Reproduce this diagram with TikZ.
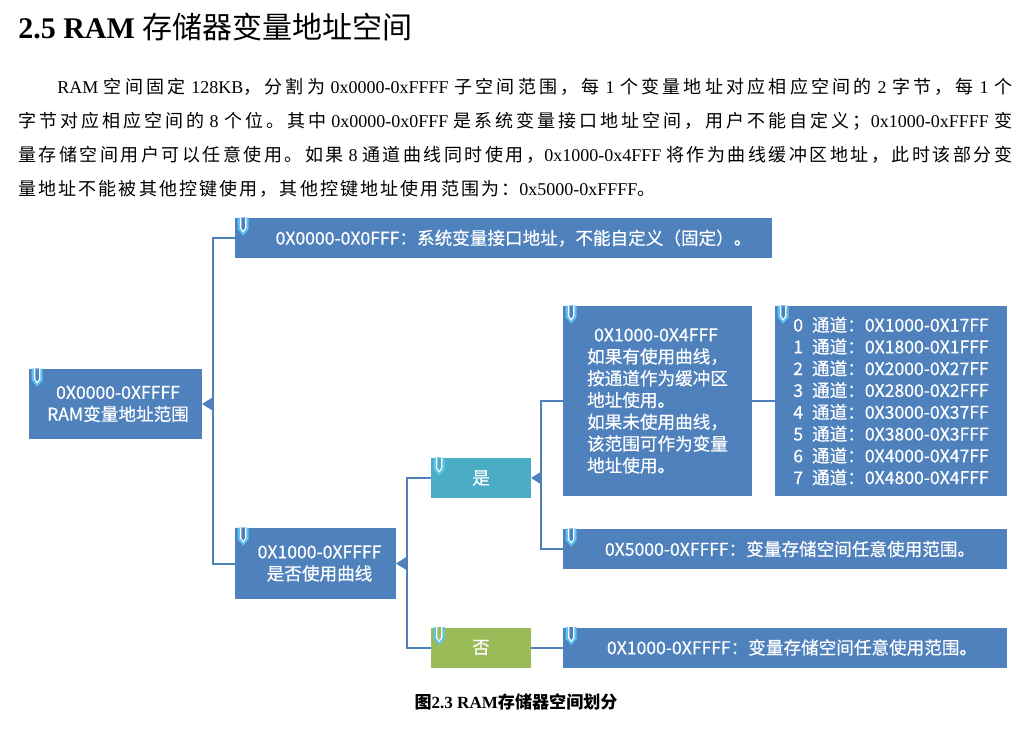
\documentclass[tikz,border=0pt]{standalone}
\usepackage{fontspec}
\setmainfont{Liberation Serif}
\newfontfamily\cjk{Noto Sans CJK SC}
\newfontfamily\cjkbox[FakeBold=0.5]{Noto Sans CJK SC}
\usetikzlibrary{arrows.meta}
\definecolor{boxblue}{HTML}{4F81BD}
\definecolor{yesc}{HTML}{4BACC6}
\definecolor{noc}{HTML}{9BBB59}
\definecolor{pinc}{HTML}{5BC4F1}
\newlength\pxu \pxu=0.75pt
\newcommand\cjgap{\hskip 1.6pt plus 1fil\relax}
\newcommand\gsp{\hskip 3.4pt plus 1fil\relax}
\def\cjloop#1#2{#1\ifx\relax#2\else\cjgap\expandafter\cjloop\expandafter#2\fi}
\newcommand\cj[1]{{\cjk\cjloop#1\relax}}
\begin{document}
\begin{tikzpicture}[x=0.75pt,y=-0.75pt,
  box/.style={fill=boxblue, text=white, inner sep=0pt, align=center,
    font=\cjkbox\fontsize{13.2pt}{16.35pt}\selectfont},
  sz/.style 2 args={minimum width=#1*0.75pt, minimum height=#2*0.75pt},
  conn/.style={draw=boxblue, line width=1.5pt},
  tip/.style={-{Triangle[length=7.5pt,width=9pt]}},
  para/.style={inner sep=0pt, anchor=base west, font=\fontsize{13.5pt}{16pt}\selectfont},
  pinouter/.style={fill=pinc},
  pininner/.style={draw=white, line width=0.8pt}]
\useasboundingbox (0,0) rectangle (1027,728);

% heading
\node[inner sep=0pt, anchor=base west] (title) at (18,38)
  {\fontsize{22.5pt}{26pt}\selectfont\bfseries 2.5 RAM {\cjk\mdseries 存储器变量地址空间}};

% paragraph
\node[para] (p1) at (57,93) {\hbox to 716.25pt{RAM\gsp\cj{空间固定}\gsp 128KB\cj{，分割为}\gsp 0x0000-0xFFFF\gsp\cj{子空间范围，每}\gsp 1\gsp\cj{个变量地址对应相应空间的}\gsp 2\gsp\cj{字节，每}\gsp 1\gsp\cj{个}}};
\node[para] (p2) at (18,127) {\hbox to 745.5pt{\cj{字节对应相应空间的}\gsp 8\gsp\cj{个位。其中}\gsp 0x0000-0x0FFF\gsp\cj{是系统变量接口地址空间，用户不能自定义；}0x1000-0xFFFF\gsp\cj{变}}};
\node[para] (p3) at (18,161) {\hbox to 745.5pt{\cj{量存储空间用户可以任意使用。如果}\gsp 8\gsp\cj{通道曲线同时使用，}0x1000-0x4FFF\gsp\cj{将作为曲线缓冲区地址，此时该部分变}}};
\node[para] (p4) at (18,195) {\hbox{\cj{量地址不能被其他控键使用，其他控键地址使用范围为：}0x5000-0xFFFF\cj{。}}};

% boxes
\node[box, sz={173}{70}] (main) at (115.5,404) {\hspace*{5\pxu}0X0000-0XFFFF\\\hspace*{5\pxu}RAM变量地址范围};
\node[box, sz={537}{40}] (A) at (503.5,238) {\hspace*{20\pxu}0X0000-0X0FFF：系统变量接口地址，不能自定义（固定）。};
\node[box, sz={161}{71}] (B) at (315.5,563.5) {\hspace*{8\pxu}0X1000-0XFFFF\\\hspace*{8\pxu}是否使用曲线};
\node[box, fill=yesc, sz={100}{40}] (yes) at (481,478) {是};
\node[box, fill=noc, sz={100}{40}] (no) at (481,647.5) {否};
\node[box, sz={189}{190}, align=left] (C) at (657.5,401)
  {\hspace*{7\pxu}0X1000-0X4FFF\\如果有使用曲线，\\按通道作为缓冲区\\地址使用。\\如果未使用曲线，\\该范围可作为变量\\地址使用。};
\node[box, sz={232}{190}] (Ch) at (891,401)
  {0\hspace{9\pxu}通道：0X1000-0X17FF\\1\hspace{9\pxu}通道：0X1800-0X1FFF\\2\hspace{9\pxu}通道：0X2000-0X27FF\\3\hspace{9\pxu}通道：0X2800-0X2FFF\\4\hspace{9\pxu}通道：0X3000-0X37FF\\5\hspace{9\pxu}通道：0X3800-0X3FFF\\6\hspace{9\pxu}通道：0X4000-0X47FF\\7\hspace{9\pxu}通道：0X4800-0X4FFF};
\node[box, sz={444}{40}] (E) at (785,549) {\hspace*{10\pxu}0X5000-0XFFFF：变量存储空间任意使用范围。};
\node[box, sz={444}{40}] (D) at (785,647.5) {\hspace*{14\pxu}0X1000-0XFFFF：变量存储空间任意使用范围。};

% pins
\foreach \n/\c in {main/boxblue,A/boxblue,B/boxblue,yes/yesc,no/noc,C/boxblue,Ch/boxblue,E/boxblue,D/boxblue}{
  \begin{scope}[shift={(\n.north west)}]
    \fill[pinouter] (3,0) -- (3,11.5) -- (8.5,18) -- (14,11.5) -- (14,0) -- cycle;
    \filldraw[pininner, fill=\c] (6,0) -- (6,10.5) -- (8.5,14) -- (11,10.5) -- (11,0);
  \end{scope}
}

% junctions
\coordinate (j1) at (213,0);
\coordinate (j2) at (407,0);
\coordinate (j3) at (541,0);

% connectors
\draw[conn, tip] (A.west) -- (A.west -| j1) |- (main.east);
\draw[conn, tip] (B.west) -- (B.west -| j1) |- (main.east);
\draw[conn, tip] (yes.west) -- (yes.west -| j2) |- (B.east);
\draw[conn, tip] (no.west) -- (no.west -| j2) |- (B.east);
\draw[conn, tip] (C.west) -- (C.west -| j3) |- (yes.east);
\draw[conn, tip] (E.west) -- (E.west -| j3) |- (yes.east);
\draw[conn] (C.east) -- (Ch.west);
\draw[conn] (no.east) -- (D.west);

% caption
\node[inner sep=0pt, anchor=base] (cap) at (516,708)
  {\fontsize{12.8pt}{15pt}\selectfont\bfseries{\cjk 图}2.3 RAM{\cjk 存储器空间划分}};
\end{tikzpicture}
\end{document}
